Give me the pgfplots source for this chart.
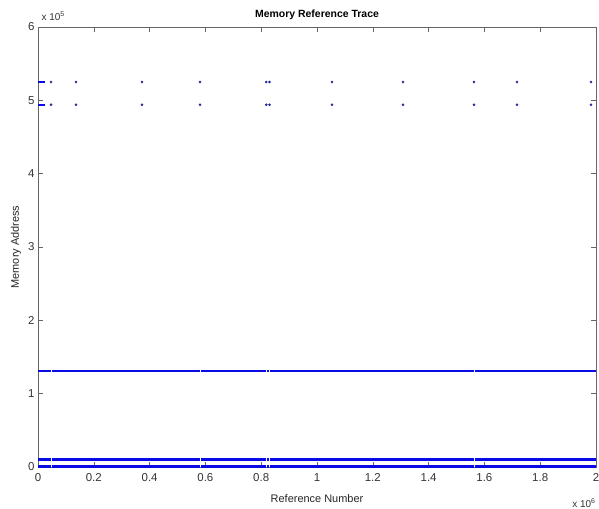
\documentclass[border=0pt]{standalone}
\usepackage{fontspec}
\setmainfont{Liberation Sans}
\usepackage{pgfplots}
\usepackage{pgfplotstable}
\pgfplotsset{compat=1.18}
\definecolor{mblue}{RGB}{10,10,230}
\definecolor{mdot}{RGB}{40,40,150}
\pgfplotstableread{
x y
0 0
45500 0
47000 nan
48500 0
134500 0
136000 nan
137500 0
371500 0
373000 nan
374500 0
579500 0
581000 nan
582500 0
816500 0
818000 nan
819500 0
828500 0
830000 nan
831500 0
1052500 0
1054000 nan
1055500 0
1306500 0
1308000 nan
1309500 0
1561500 0
1563000 nan
1564500 0
1715500 0
1717000 nan
1718500 0
1980500 0
1982000 nan
1983500 0
2000000 0
}\segs
\begin{document}
\begin{tikzpicture}
\begin{axis}[
  scale only axis,
  width=558bp, height=440bp,
  xmin=0, xmax=2000000, ymin=0, ymax=600000,
  xtick={0,200000,400000,600000,800000,1000000,1200000,1400000,1600000,1800000,2000000},
  ytick={0,100000,200000,300000,400000,500000,600000},
  scaled x ticks=base 10:-6,
  scaled y ticks=base 10:-5,
  xtick scale label code/.code={x 10\textsuperscript{6}},
  ytick scale label code/.code={x 10\textsuperscript{5}},
  every x tick scale label/.style={at={(axis description cs:1,0)},anchor=north,xshift=-12bp,yshift=-25bp,font=\fontsize{10}{12}\selectfont},
  every y tick scale label/.style={at={(axis description cs:0,1)},anchor=south west,xshift=0bp,yshift=3bp,font=\fontsize{10}{12}\selectfont},
  /pgf/number format/assume math mode=true,
  tick label style={font=\fontsize{11.5}{13}\selectfont, text=black!80},
  xticklabel style={yshift=-3bp},
  tick align=inside,
  major tick length=5bp,
  axis line style={black!60, line width=0.6bp},
  every tick/.style={black!60, line width=0.6bp},
  title={\textbf{Memory Reference Trace}},
  title style={font=\fontsize{10.5}{12}\selectfont, at={(axis description cs:0.5,1)}, anchor=south, yshift=-2bp},
  xlabel={Reference Number},
  ylabel={Memory Address},
  label style={font=\fontsize{11}{13}\selectfont, text=black!85},
  xlabel style={yshift=-6bp},
  ylabel style={yshift=0bp},
  clip=true,
  unbounded coords=jump,
]
% dense address bands (small gaps where the trace jumps to high addresses)
\addplot[mblue, line width=2.6bp, line cap=butt] table[x=x, y expr=\thisrow{y}+131000] {\segs};
\addplot[mblue, line width=2.6bp, line cap=butt] table[x=x, y expr=\thisrow{y}+10000] {\segs};
\addplot[mblue, line width=2.6bp, line cap=butt] table[x=x, y expr=\thisrow{y}+600] {\segs};
% clusters near start
\addplot[mblue, line width=2.2bp] coordinates {(0,525000) (25000,525000)};
\addplot[mblue, line width=2.2bp] coordinates {(0,494000) (25000,494000)};
% sparse high references
\addplot[only marks, mark=*, mark size=1.1bp, mdot] coordinates {
 (47000,525000) (136000,525000) (373000,525000) (581000,525000)
 (818000,525000) (830000,525000) (1054000,525000) (1308000,525000)
 (1563000,525000) (1717000,525000) (1982000,525000)
 (47000,494000) (136000,494000) (373000,494000) (581000,494000)
 (818000,494000) (830000,494000) (1054000,494000) (1308000,494000)
 (1563000,494000) (1717000,494000) (1982000,494000)
};
\end{axis}
\pgfresetboundingbox
\path[use as bounding box] (-38bp,-42bp) rectangle (561bp,467bp);
\end{tikzpicture}
\end{document}
